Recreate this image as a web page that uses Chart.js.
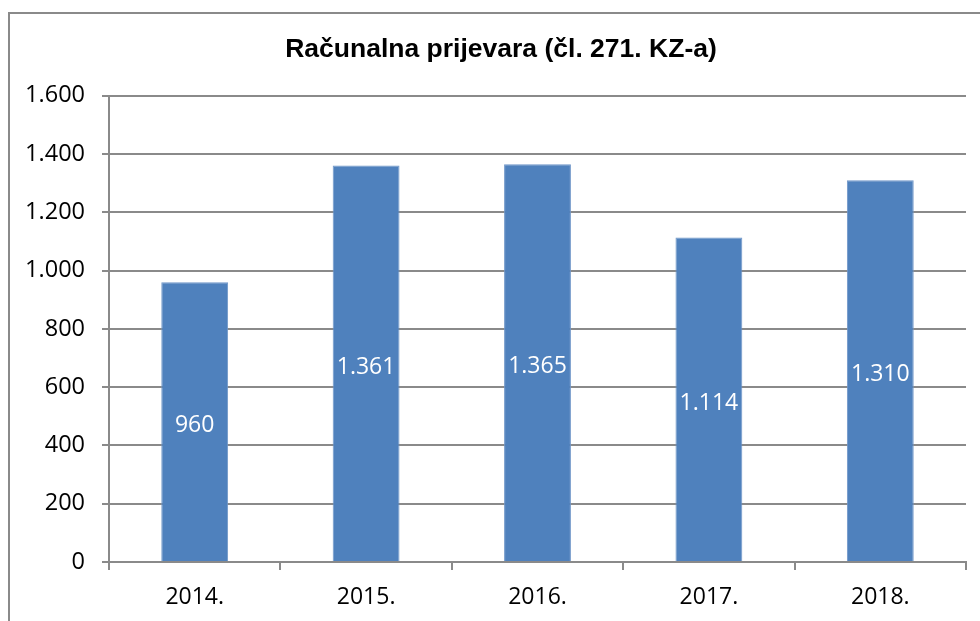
<!DOCTYPE html>
<html>
<head>
<meta charset="utf-8">
<script src="https://cdn.jsdelivr.net/npm/chart.js@4.4.1/dist/chart.umd.min.js"></script>
<style>
  html, body { margin: 0; padding: 0; background: #fff; overflow: hidden; }
  #wrap { position: relative; width: 980px; height: 621px; }
  #frame {
    position: absolute; left: 8px; top: 12px; width: 1000px; height: 700px;
    border-left: 2px solid #8a8a8a; border-top: 2px solid #8a8a8a;
  }
  canvas { position: absolute; left: 0; top: 0; }
</style>
</head>
<body>
<div id="wrap">
  <div id="frame"></div>
  <canvas id="chart" width="980" height="621"></canvas>
</div>
<script>
const chartTitle = 'Računalna prijevara (čl. 271. KZ-a)'
const years = ['2014.', '2015.', '2016.', '2017.', '2018.']
const cases = [960, 1361, 1365, 1114, 1310]
const yTicks = [0, 200, 400, 600, 800, 1000, 1200, 1400, 1600]

const gridGray = '#8a8a8a'

// 1361 -> 1.361
function fmt(v) {
  return String(v).replace(/\B(?=(\d{3})+(?!\d))/g, '.')
}

// white value in the middle of each bar
const barLabels = {
  id: 'barLabels',
  afterDatasetsDraw(chart) {
    const c = chart.ctx
    const meta = chart.getDatasetMeta(0)
    c.save()
    c.fillStyle = '#ffffff'
    c.font = '23px "Open Sans"'
    c.textAlign = 'center'
    c.textBaseline = 'middle'
    meta.data.forEach((bar, i) => {
      c.fillText(fmt(cases[i]), bar.x, (bar.y + bar.base) / 2 + 4)
    })
    c.restore()
  }
}

// title sits centred on the frame, a bit right of the canvas centre
const titleShift = {
  id: 'titleShift',
  afterLayout(chart) {
    if (chart.titleBlock) chart.titleBlock.left += 36
  }
}

const ctx = document.getElementById('chart').getContext('2d')
const casesChart = new Chart(ctx, {
  type: 'bar',
  data: {
    labels: years,
    datasets: [{
      data: cases,
      backgroundColor: '#4f81bd',
      borderColor: '#6f96c8',
      borderWidth: 1,
      categoryPercentage: 1,
      barPercentage: 0.39
    }]
  },
  options: {
    responsive: false,
    animation: false,
    layout: { padding: { top: 0, right: 14, bottom: 0, left: 0 } },
    plugins: {
      legend: { display: false },
      tooltip: { enabled: false },
      title: {
        display: true,
        text: chartTitle,
        color: '#000',
        font: { family: '"Liberation Sans", Arial', size: 26.5, weight: 'bold' },
        padding: { top: 34, bottom: 30 }
      }
    },
    scales: {
      x: {
        grid: {
          display: true,
          drawOnChartArea: false,
          tickLength: 8,
          color: gridGray,
          lineWidth: 2
        },
        border: { color: gridGray, width: 2 },
        ticks: {
          color: '#000',
          padding: 14,
          font: { family: '"Open Sans"', size: 23 }
        },
        afterFit(scale) { scale.height = 59 }
      },
      y: {
        min: 0,
        max: 1600,
        afterBuildTicks(scale) { scale.ticks = yTicks.map(v => ({ value: v })) },
        grid: {
          color: gridGray,
          lineWidth: 2,
          tickLength: 7
        },
        border: { color: gridGray, width: 2 },
        ticks: {
          color: '#000',
          padding: 17,
          font: { family: '"Open Sans"', size: 23.5 },
          callback: v => fmt(v)
        },
        afterFit(scale) { scale.width = 109 }
      }
    }
  },
  plugins: [barLabels, titleShift]
})
</script>
</body>
</html>
